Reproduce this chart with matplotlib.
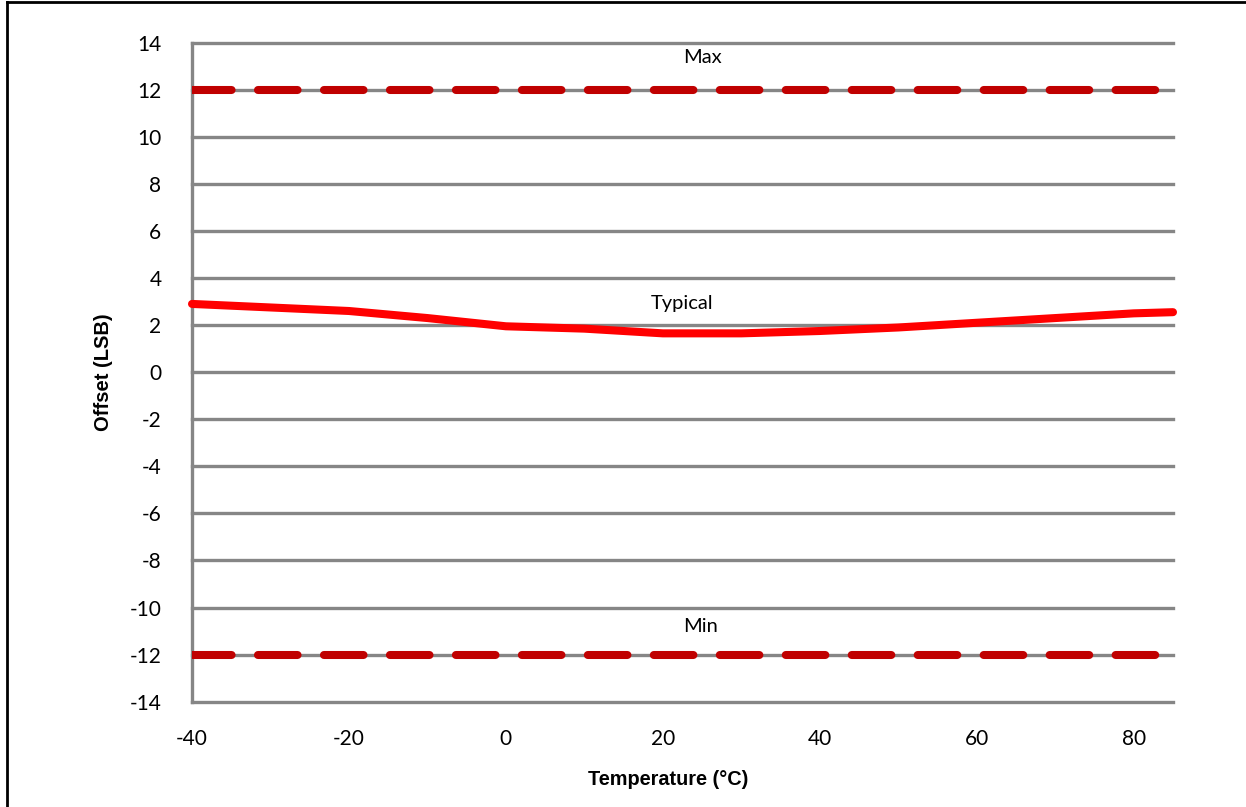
import matplotlib
matplotlib.use("Agg")
import matplotlib.pyplot as plt
from matplotlib.lines import Line2D

# data
temp_c = [-40, -30, -20, -10, 0, 10, 20, 30, 40, 50, 60, 70, 80, 85]
typical_lsb = [2.9, 2.75, 2.6, 2.3, 1.95, 1.85, 1.65, 1.65, 1.75, 1.9, 2.1, 2.3, 2.5, 2.55]
limit_x = [-40, 85]
max_lsb = [12, 12]
min_lsb = [-12, -12]
y_ticks = list(range(-14, 15, 2))
x_ticks = [-40, -20, 0, 20, 40, 60, 80]
labels = [("Max", 25, 13.35), ("Typical", 22.4, 2.9), ("Min", 24.8, -10.82)]

plt.rcParams['lines.scale_dashes'] = False
plt.rcParams['axes.unicode_minus'] = False
GRID = "#868686"
TICK_FONT = "Lato"
LABEL_FONT = "Liberation Sans"

fig = plt.figure(figsize=(12.46, 8.07), dpi=100)
ax = fig.add_axes([0.1541, 0.1305, 0.7873, 0.8166])

ax.set_xlim(-40, 85)
ax.set_ylim(-14, 14)

for s in ax.spines.values():
    s.set_visible(False)

# gridlines + left axis line
for y in y_ticks:
    ax.axhline(y, color=GRID, lw=2.4, zorder=1, clip_on=False)
ax.axvline(-40, color=GRID, lw=2.4, zorder=1, clip_on=False)

# limits
for ys in (max_lsb, min_lsb):
    ln, = ax.plot(limit_x, ys, color="#C00000", lw=5.8, zorder=3,
                  dash_capstyle="round")
    ln.set_dashes((28.5, 19))

# typical curve
ax.plot(temp_c, typical_lsb, color="#FF0000", lw=5.8, zorder=4,
        solid_capstyle="round", solid_joinstyle="round", clip_on=False)

for txt, x, y in labels:
    ax.text(x, y, txt, ha="center", va="center", fontsize=14.5,
            family=TICK_FONT, zorder=5)

ax.set_yticks(y_ticks)
ax.set_xticks(x_ticks)
ax.tick_params(length=0, labelsize=15, pad=20)
ax.tick_params(axis="y", pad=22)
for lab in ax.get_xticklabels() + ax.get_yticklabels():
    lab.set_family(TICK_FONT)

ax.set_xlabel("Temperature (°C)", family=LABEL_FONT, fontweight="bold",
              fontsize=14.3)
ax.xaxis.set_label_coords(0.485, -0.104)
ax.set_ylabel("Offset (LSB)", family=LABEL_FONT, fontweight="bold",
              fontsize=14.5, labelpad=12)

# figure frame: only top and left edges
fig.add_artist(Line2D([0.0055, 1.0], [0.9975, 0.9975], color="black", lw=2,
                      transform=fig.transFigure))
fig.add_artist(Line2D([0.0055, 0.0055], [0.0, 0.9975], color="black", lw=2,
                      transform=fig.transFigure))

fig.savefig("out.png", dpi=100, facecolor="white")
